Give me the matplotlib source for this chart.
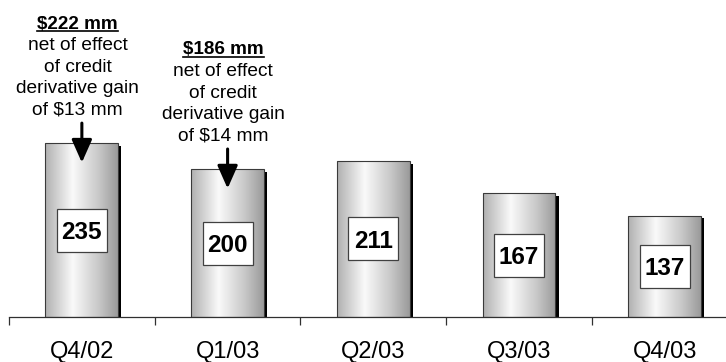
import numpy as np
import matplotlib
matplotlib.use("Agg")
import matplotlib.pyplot as plt
from matplotlib import patheffects
from matplotlib.patches import Rectangle
from matplotlib.transforms import ScaledTranslation
from matplotlib.colors import LinearSegmentedColormap

# Quarterly values
quarters = ["Q4/02", "Q1/03", "Q2/03", "Q3/03", "Q4/03"]
values = [235, 200, 211, 167, 137]

# Call-out notes above the first two bars
note_index = [0, 1]
note_heads = ["$222 mm", "$186 mm"]
note_bodies = [
    ["net of effect", "of credit", "derivative gain", "of $13 mm"],
    ["net of effect", "of credit", "derivative gain", "of $14 mm"],
]

plt.rcParams["font.family"] = ["Liberation Sans", "DejaVu Sans"]

DPI = 100
fig = plt.figure(figsize=(7.26, 3.62), dpi=DPI)
ax = fig.add_axes([9 / 726, 45 / 362, 717 / 726, 317 / 362])

x = np.arange(len(values))
bar_w = 0.5

# drop shadow behind each bar
shadow = ax.bar(x, values, width=bar_w, color="black", linewidth=0, zorder=1)
for p in shadow:
    p.set_path_effects([patheffects.SimplePatchShadow(offset=(2.2, -2.0),
                                                      shadow_rgbFace="black",
                                                      alpha=1.0)])
    p.set_facecolor("none")

# cylinder-like horizontal gray gradient
cmap = LinearSegmentedColormap.from_list(
    "cyl", [(0.0, "#b0b0b0"), (0.38, "#fafafa"), (0.75, "#c6c6c6"), (1.0, "#9a9a9a")])
grad = np.linspace(0, 1, 256).reshape(1, -1)

outline = ax.bar(x, values, width=bar_w, facecolor="none",
                 edgecolor="#3a3a3a", linewidth=0.8, zorder=3)
for xi, v, p in zip(x, values, outline):
    im = ax.imshow(grad, cmap=cmap, aspect="auto", zorder=2,
                   extent=[xi - bar_w / 2, xi + bar_w / 2, 0, v],
                   interpolation="bicubic")
    im.set_clip_path(p)

ax.set_xlim(-0.5, 4.42)
ax.set_ylim(0, 317 / 0.74)

# value boxes centred at half bar height
box_w, box_h = 50 / DPI, 43 / DPI
for xi, v in zip(x, values):
    tr = fig.dpi_scale_trans + ScaledTranslation(xi, v / 2, ax.transData)
    ax.add_patch(Rectangle((-box_w / 2, -box_h / 2), box_w, box_h,
                           transform=tr, facecolor="white",
                           edgecolor="#404040", linewidth=0.9, zorder=4))
    ax.text(xi, v / 2, str(v), ha="center", va="center_baseline",
            fontsize=17.5, fontweight="bold", zorder=5)

# call-out notes
line_px = 21.5
head_px = 119
for i, head, body in zip(note_index, note_heads, note_bodies):
    v = values[i]
    xc = x[i] - 0.03
    ax.annotate(head, xy=(xc, v), xytext=(0, head_px),
                textcoords="offset pixels", ha="center", va="center",
                fontsize=13.6, fontweight="bold", parse_math=False)
    for k, line in enumerate(body, start=1):
        ax.annotate(line, xy=(xc, v), xytext=(0, head_px - k * line_px),
                    textcoords="offset pixels", ha="center", va="center",
                    fontsize=13.8, parse_math=False)

# arrows pointing down into the bars
for i in note_index:
    v = values[i]
    base = ax.transData.transform((x[i], v))
    s = ax.transData.inverted().transform(base + np.array([0, 20]))
    e = ax.transData.inverted().transform(base + np.array([0, -19.5]))
    ax.annotate("", xy=e, xytext=s,
                arrowprops=dict(arrowstyle="-|>,head_length=1.4,head_width=0.62",
                                mutation_scale=10, lw=2.2, color="black",
                                shrinkA=0, shrinkB=0),
                zorder=6, annotation_clip=False)

# axis styling
for side in ("top", "right", "left"):
    ax.spines[side].set_visible(False)
ax.spines["bottom"].set_color("#303030")
ax.spines["bottom"].set_linewidth(0.9)
ax.set_yticks([])
ax.set_xticks(np.arange(-0.5, 4.0, 1.0))
ax.set_xticklabels([])
ax.tick_params(axis="x", direction="out", length=6, width=0.9, color="#303030")
for xi, q in zip(x, quarters):
    ax.annotate(q, xy=(xi, 0), xytext=(0, -35), textcoords="offset pixels",
                ha="center", va="center", fontsize=17)

# underline the bold headline figures
fig.canvas.draw()
renderer = fig.canvas.get_renderer()
for t in ax.texts:
    if t.get_text() in note_heads:
        bb = t.get_window_extent(renderer)
        y = bb.y0 + 1.5
        fig.add_artist(plt.Line2D([bb.x0 / fig.bbox.width, bb.x1 / fig.bbox.width],
                                  [y / fig.bbox.height, y / fig.bbox.height],
                                  color="black", linewidth=1.2))

fig.savefig("out.png", dpi=DPI)
